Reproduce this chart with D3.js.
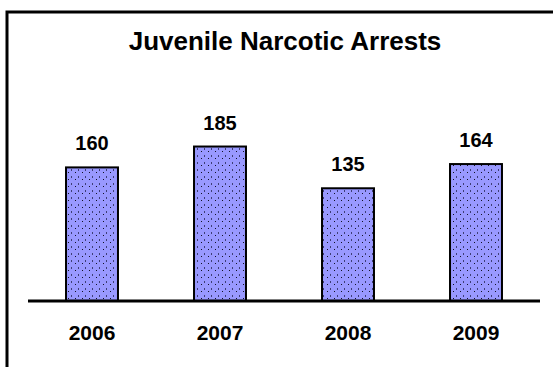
<!DOCTYPE html>
<html>
<head>
<meta charset="utf-8">
<script src="https://cdn.jsdelivr.net/npm/d3@7"></script>
<style>
  html, body { margin: 0; padding: 0; background: #fff; }
  svg { display: block; }
  text { font-family: Arial, "Liberation Sans", sans-serif; font-weight: bold; fill: #000; }
</style>
</head>
<body>
<svg id="chart" width="553" height="367"></svg>
<script>
const chartTitle = "Juvenile Narcotic Arrests";
const years = ["2006", "2007", "2008", "2009"];
const arrests = [160, 185, 135, 164];

const W = 553, H = 367;
const svg = d3.select("#chart");

// pattern fill
const defs = svg.append("defs");
const pat = defs.append("pattern")
  .attr("id", "dots").attr("patternUnits", "userSpaceOnUse")
  .attr("width", 7).attr("height", 7);
pat.append("rect").attr("width", 7).attr("height", 7).attr("fill", "#9999ff");
pat.append("path").attr("d", "M2,1 L1,2 L2,3").attr("fill", "none").attr("stroke", "#333366").attr("stroke-width", 0.9);
pat.append("rect").attr("x", 5).attr("y", 4).attr("width", 1).attr("height", 1).attr("fill", "#111122");

// frame
svg.append("rect").attr("x", 7).attr("y", 12).attr("width", W + 20).attr("height", H + 20)
  .attr("fill", "none").attr("stroke", "#000").attr("stroke-width", 3);

const x = d3.scaleBand().domain(years).range([28, 540]).paddingInner(0.594).paddingOuter(0.297);
const y = d3.scaleLinear().domain([0, 200]).range([301, 134]);

svg.append("text").attr("x", 285).attr("y", 50).attr("text-anchor", "middle")
  .style("font-size", "26px")
  .text(chartTitle);

svg.selectAll("rect.bar").data(arrests).enter().append("rect")
  .attr("class", "bar")
  .attr("x", (d, i) => x(years[i]))
  .attr("y", d => y(d))
  .attr("width", x.bandwidth())
  .attr("height", d => y(0) - y(d))
  .attr("fill", "url(#dots)")
  .attr("stroke", "#000").attr("stroke-width", 2);

svg.selectAll("text.val").data(arrests).enter().append("text")
  .attr("class", "val")
  .attr("x", (d, i) => x(years[i]) + x.bandwidth() / 2)
  .attr("y", d => y(d) - 17)
  .attr("text-anchor", "middle").style("font-size", "20px")
  .text(d => d);

// baseline axis
const axis = d3.axisBottom(x).tickSize(0).tickPadding(0);
const g = svg.append("g").attr("transform", "translate(0,301)").call(axis);
g.select(".domain").attr("stroke", "#000").attr("stroke-width", 3).attr("d", "M28,0H540");
g.selectAll(".tick text").attr("dy", 0).attr("y", 39)
  .style("font-size", "21px").style("font-family", "Arial, 'Liberation Sans', sans-serif")
  .style("font-weight", "bold").attr("fill", "#000");
</script>
</body>
</html>
